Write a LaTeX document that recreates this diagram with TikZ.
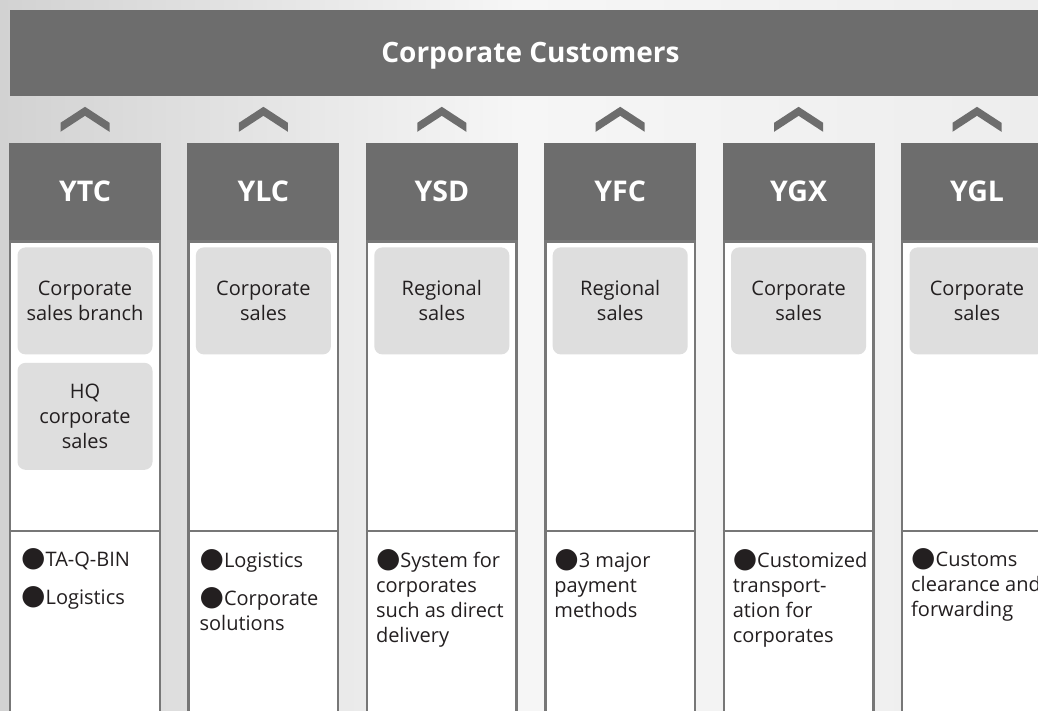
\documentclass[tikz,border=0pt]{standalone}
\usepackage{fontspec}
\setmainfont{Open Sans}
\newfontfamily\symfont{DejaVu Sans}
\usetikzlibrary{positioning}
\definecolor{hdgray}{HTML}{6D6D6D}
\definecolor{lngray}{HTML}{777777}
\definecolor{boxgray}{HTML}{DEDEDE}
\definecolor{txt}{HTML}{231F20}
\definecolor{bgleft}{HTML}{D2D2D2}
\definecolor{bgmid}{HTML}{F6F6F6}
\definecolor{bgright}{HTML}{EDEDED}
\newcommand{\blt}{\smash{\symfont\fontsize{28pt}{25pt}\selectfont ●}}
\tikzset{
    font={\fontsize{20pt}{25pt}\selectfont},
    banner/.style={
           rectangle,
           fill=hdgray,
           text=white,
           font={\fontsize{28pt}{30pt}\selectfont\bfseries},
           text height=24pt, text depth=4pt,
           minimum width=1041pt,
           minimum height=86pt,
           inner sep=0pt,
           },
    head/.style={
           rectangle,
           fill=hdgray,
           text=white,
           font={\fontsize{28.5pt}{30pt}\selectfont\bfseries},
           text height=22pt, text depth=1pt,
           minimum width=152pt,
           minimum height=97pt,
           inner sep=0pt,
           },
    body/.style={
           rectangle,
           draw=lngray, line width=2.4pt,
           fill=white,
           minimum width=149.6pt,
           minimum height=500pt,
           inner sep=0pt,
           anchor=north,
           },
    unit/.style={
           rectangle,
           rounded corners=8pt,
           fill=boxgray,
           text=txt,
           minimum width=135pt,
           minimum height=107pt,
           inner sep=0pt,
           align=center,
           },
    feat/.style={
           anchor=north west,
           inner sep=0pt,
           text=txt,
           align=left,
           font={\fontsize{20pt}{25pt}\selectfont},
           },
    sep/.style={draw=lngray, line width=2.4pt},
    chev/.style={fill=hdgray},
}

\begin{document}
\begin{tikzpicture}[x=1pt,y=1pt]

\clip (0,0) rectangle (1038,-711);
\shade[left color=bgleft, right color=bgright, middle color=bgmid] (0,0) rectangle (1038,-711);

\node[banner] (CUSTOMERS) at (530.5,-53) {Corporate Customers};

% Company headers
\node[head] (YTC) at (85,-191.5) {YTC};
\node[head, right=26pt of YTC] (YLC) {YLC};
\node[head, right=26pt of YLC] (YSD) {YSD};
\node[head, right=26pt of YSD] (YFC) {YFC};
\node[head, right=26pt of YFC] (YGX) {YGX};
\node[head, right=26pt of YGX] (YGL) {YGL};

% Column bodies
\node[body] (BYTC) at (YTC.south) {};
\node[body] (BYLC) at (YLC.south) {};
\node[body] (BYSD) at (YSD.south) {};
\node[body] (BYFC) at (YFC.south) {};
\node[body] (BYGX) at (YGX.south) {};
\node[body] (BYGL) at (YGL.south) {};

% Chevrons pointing up to the customers bar
\fill[chev] ([yshift=20pt]YTC.north) ++(-24.5,0) -- ++(24.5,16) -- ++(24.5,-16) -- ++(0,-9) -- ++(-24.5,16) -- ++(-24.5,-16) -- cycle;
\fill[chev] ([yshift=20pt]YLC.north) ++(-24.5,0) -- ++(24.5,16) -- ++(24.5,-16) -- ++(0,-9) -- ++(-24.5,16) -- ++(-24.5,-16) -- cycle;
\fill[chev] ([yshift=20pt]YSD.north) ++(-24.5,0) -- ++(24.5,16) -- ++(24.5,-16) -- ++(0,-9) -- ++(-24.5,16) -- ++(-24.5,-16) -- cycle;
\fill[chev] ([yshift=20pt]YFC.north) ++(-24.5,0) -- ++(24.5,16) -- ++(24.5,-16) -- ++(0,-9) -- ++(-24.5,16) -- ++(-24.5,-16) -- cycle;
\fill[chev] ([yshift=20pt]YGX.north) ++(-24.5,0) -- ++(24.5,16) -- ++(24.5,-16) -- ++(0,-9) -- ++(-24.5,16) -- ++(-24.5,-16) -- cycle;
\fill[chev] ([yshift=20pt]YGL.north) ++(-24.5,0) -- ++(24.5,16) -- ++(24.5,-16) -- ++(0,-9) -- ++(-24.5,16) -- ++(-24.5,-16) -- cycle;

% Sales units
\node[unit, below=7pt of YTC] (UYTC) {Corporate\\sales branch};
\node[unit, below=8pt of UYTC] (HQYTC) {HQ\\corporate\\sales};
\node[unit, below=7pt of YLC] (UYLC) {Corporate\\sales};
\node[unit, below=7pt of YSD] (UYSD) {Regional\\sales};
\node[unit, below=7pt of YFC] (UYFC) {Regional\\sales};
\node[unit, below=7pt of YGX] (UYGX) {Corporate\\sales};
\node[unit, below=7pt of YGL] (UYGL) {Corporate\\sales};

% Dividers
\draw[sep] ([yshift=-291pt]BYTC.north west) -- ([yshift=-291pt]BYTC.north east);
\draw[sep] ([yshift=-291pt]BYLC.north west) -- ([yshift=-291pt]BYLC.north east);
\draw[sep] ([yshift=-291pt]BYSD.north west) -- ([yshift=-291pt]BYSD.north east);
\draw[sep] ([yshift=-291pt]BYFC.north west) -- ([yshift=-291pt]BYFC.north east);
\draw[sep] ([yshift=-291pt]BYGX.north west) -- ([yshift=-291pt]BYGX.north east);
\draw[sep] ([yshift=-291pt]BYGL.north west) -- ([yshift=-291pt]BYGL.north east);

% Services
\node[feat] (FYTC) at ([xshift=12pt,yshift=-312pt]BYTC.north west) {\blt TA-Q-BIN\\[13pt]\blt Logistics};
\node[feat] (FYLC) at ([xshift=12pt,yshift=-312pt]BYLC.north west) {\blt Logistics\\[13pt]\blt Corporate\\solutions};
\node[feat] (FYSD) at ([xshift=10pt,yshift=-312pt]BYSD.north west) {\blt System for\\corporates\\such as direct\\delivery};
\node[feat] (FYFC) at ([xshift=10pt,yshift=-312pt]BYFC.north west) {\blt 3 major\\payment\\methods};
\node[feat] (FYGX) at ([xshift=10pt,yshift=-312pt]BYGX.north west) {\blt Customized\\transport-\\ation for\\corporates};
\node[feat] (FYGL) at ([xshift=10pt,yshift=-312pt]BYGL.north west) {\blt Customs\\clearance and\\forwarding};

\end{tikzpicture}
\end{document}
